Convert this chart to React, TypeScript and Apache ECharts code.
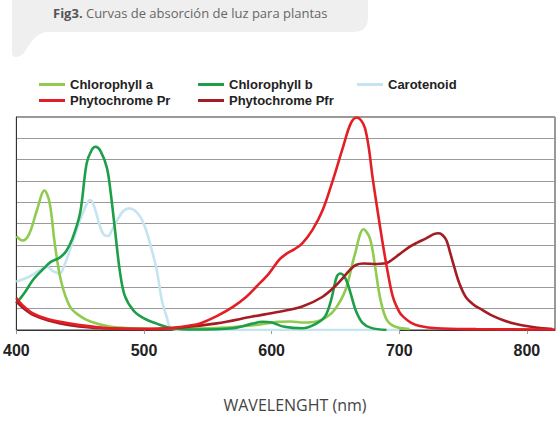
import React, { useEffect, useRef } from "react";
import * as echarts from "echarts";

const xTicks = { min: 400, max: 822, interval: 100 };
const titleText = "Curvas de absorción de luz para plantas";
const titlePrefix = "Fig3.";
const axisTitle = "WAVELENGHT (nm)";

const seriesNames = ["Chlorophyll a", "Chlorophyll b", "Carotenoid", "Phytochrome Pr", "Phytochrome Pfr"];

const chlorophyllA: [number, number][] = [
  [400, 4.4], [405, 4.2], [410, 4.5], [416, 5.6], [422, 6.55], [426, 6.0], [430, 4.1], [435, 2.3],
  [442, 1.1], [450, 0.65], [458, 0.4], [473, 0.16], [490, 0.08], [520, 0.05], [560, 0.1], [590, 0.25],
  [605, 0.38], [615, 0.4], [625, 0.35], [635, 0.4], [643, 0.6], [650, 1.0], [658, 1.9], [665, 3.5],
  [672, 4.73], [677, 4.3], [681, 3.0], [685, 1.5], [690, 0.5], [697, 0.15], [708, 0.05],
];

const chlorophyllB: [number, number][] = [
  [400, 1.25], [407, 1.8], [413, 2.35], [420, 2.8], [427, 3.2], [434, 3.4], [439, 3.7], [444, 4.3],
  [450, 5.5], [455, 7.8], [459, 8.45], [462, 8.6], [466, 8.4], [471, 7.6], [474, 6.4], [477, 4.85],
  [481, 2.8], [485, 1.6], [492, 0.9], [500, 0.55], [510, 0.3], [522, 0.08], [540, 0.02], [570, 0.08],
  [585, 0.3], [593, 0.39], [600, 0.35], [610, 0.15], [624, 0.08], [635, 0.3], [642, 0.65], [647, 1.5],
  [651, 2.5], [654, 2.65], [658, 2.4], [662, 1.7], [666, 0.9], [671, 0.35], [678, 0.1], [690, 0],
];

const carotenoid: [number, number][] = [
  [400, 2.27], [410, 2.5], [418, 2.8], [424, 2.97], [429, 2.75], [434, 2.66], [438, 3.1], [442, 3.76],
  [450, 5.16], [455, 5.9], [458, 6.1], [461, 5.8], [465.6, 4.85], [469, 4.45], [472, 4.41], [475, 4.7],
  [479, 5.16], [484, 5.6], [488.5, 5.71], [493, 5.6], [497, 5.32], [501, 4.8], [505, 4.0], [510, 2.8],
  [514, 1.4], [517.7, 0.63], [521, 0.1], [530, 0], [600, 0], [700, 0],
];

const phytochromePr: [number, number][] = [
  [400, 1.5], [405, 1.15], [413, 0.78], [425, 0.5], [442, 0.3], [468, 0.1], [490, 0.05], [510, 0.05],
  [523, 0.1], [535, 0.2], [544, 0.31], [557, 0.65], [570, 1.1], [580, 1.55], [588, 2.03], [598, 2.66],
  [606, 3.3], [612, 3.6], [618, 3.8], [624, 4.07], [632, 4.7], [640, 5.63], [648, 7.04], [656, 8.6],
  [662, 9.7], [666.6, 9.98], [670, 9.85], [673, 9.5], [676, 8.6], [679, 7.2], [683, 5.6], [687, 4.07],
  [691, 2.7], [695, 1.56], [700, 0.85], [703, 0.63], [709, 0.35], [716, 0.19], [729, 0.08], [760, 0.04],
  [822, 0.02],
];

const phytochromePfr: [number, number][] = [
  [400, 1.33], [406, 1.0], [413.5, 0.7], [425, 0.45], [442, 0.23], [468, 0.08], [505, 0.05], [531, 0.13],
  [557, 0.31], [585, 0.63], [606, 0.86], [624, 1.1], [640, 1.56], [650.5, 2.1], [656, 2.45], [661, 2.8],
  [666, 3.05], [672, 3.12], [682, 3.1], [688, 3.12], [692, 3.2], [700, 3.55], [708, 3.9], [714, 4.1],
  [721, 4.3], [727, 4.5], [731, 4.54], [734, 4.45], [737, 4.2], [740, 3.6], [743, 2.97], [747, 2.2],
  [752, 1.56], [758, 1.2], [765, 0.94], [772, 0.7], [781, 0.47], [790, 0.3], [802, 0.16], [812, 0.08],
  [820, 0.05],
];

const colors = ["#8fcb4f", "#1d9e48", "#c4e4ef", "#e31e25", "#a31d22"];

let registered = false;
function registerBubble() {
  if (registered) return;
  registered = true;
  const d =
    "M 12 -10 L 368 -10 L 368 17 Q 368 32 353 32 L 48 32 C 38 32 32 40 26 50 Q 22 57 16 57 Q 12 57 12 52 Z";
  echarts.graphic.registerShape("bubble", echarts.graphic.extendPath(d, {}) as any);
}

export default function App() {
  const ref = useRef<HTMLDivElement>(null);

  useEffect(() => {
    if (!ref.current) return;
    registerBubble();
    const chart = echarts.init(ref.current, undefined, { renderer: "svg" });
    const datasets = [chlorophyllA, chlorophyllB, carotenoid, phytochromePr, phytochromePfr];
    const zOrder = [3, 4, 2, 6, 5];
    const legendPos = [
      { left: 39, top: 78 },
      { left: 198, top: 78 },
      { left: 357, top: 78 },
      { left: 39, top: 94 },
      { left: 198, top: 94 },
    ];
    const option: any = {
      animation: false,
      backgroundColor: "#ffffff",
      legend: seriesNames.map((name, i) => ({
        data: [name],
        left: legendPos[i].left,
        top: legendPos[i].top,
        padding: 0,
        icon: "rect",
        itemWidth: 26,
        itemHeight: 3,
        selectedMode: false,
        textStyle: {
          fontFamily: "Liberation Sans, Arial, sans-serif",
          fontWeight: "bold",
          fontSize: 13,
          color: "#222",
        },
      })),
      grid: {
        left: 16,
        right: 2,
        top: 117,
        bottom: 98,
        show: true,
        borderColor: "#333",
        borderWidth: 1,
        backgroundColor: "transparent",
      },
      xAxis: {
        type: "value",
        min: xTicks.min,
        max: xTicks.max,
        interval: xTicks.interval,
        axisLine: { show: true, lineStyle: { color: "#333", width: 1 } },
        axisTick: { show: true, length: 4, lineStyle: { color: "#999" } },
        splitLine: { show: false },
        axisLabel: {
          showMaxLabel: false,
          margin: 12,
          fontFamily: "Liberation Sans, Arial, sans-serif",
          fontWeight: "bold",
          fontSize: 16,
          color: "#222",
        },
      },
      yAxis: {
        type: "value",
        min: 0,
        max: 10,
        interval: 1,
        axisLine: { show: true, lineStyle: { color: "#333" } },
        axisTick: { show: false },
        axisLabel: { show: false },
        splitLine: { show: true, lineStyle: { color: "#9a9a9a", width: 1 } },
      },
      series: seriesNames.map((name, i) => ({
        name,
        type: "line",
        data: datasets[i],
        smooth: 0.35,
        showSymbol: false,
        symbol: "none",
        z: zOrder[i],
        lineStyle: { color: colors[i], width: 2.6 },
        itemStyle: { color: colors[i] },
      })),
      graphic: [
        {
          type: "bubble",
          x: 0,
          y: 0,
          style: { fill: "#efefef" },
          z: 0,
        },
        {
          type: "text",
          x: 53,
          y: 13,
          z: 1,
          style: {
            text: "{b|" + titlePrefix + "} " + titleText,
            verticalAlign: "middle",
            fontFamily: "Open Sans, Noto Sans, sans-serif",
            fontSize: 13,
            fill: "#666",
            rich: {
              b: {
                fontFamily: "Open Sans, Noto Sans, sans-serif",
                fontSize: 13,
                fontWeight: "bold",
                fill: "#555",
                color: "#555",
              },
            },
          },
        },
        {
          type: "text",
          x: 295,
          y: 405,
          style: {
            text: axisTitle,
            textAlign: "center",
            verticalAlign: "middle",
            fontFamily: "Open Sans, Noto Sans, sans-serif",
            fontSize: 16,
            fill: "#444",
          },
        },
      ],
    };
    chart.setOption(option);
    return () => chart.dispose();
  }, []);

  return (
    <div
      ref={ref}
      style={{ position: "fixed", left: 0, top: 0, width: 557, height: 428 }}
    />
  );
}
